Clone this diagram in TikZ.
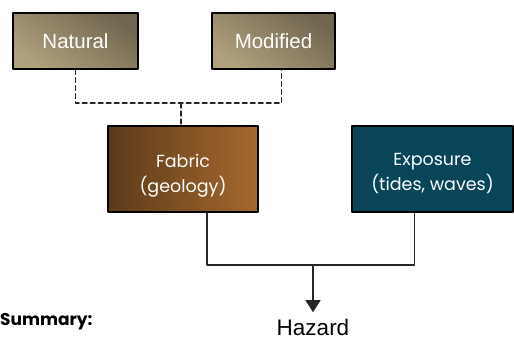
\documentclass[tikz,border=0pt]{standalone}
\usepackage{fontspec}
\setmainfont{Liberation Sans}
\newfontfamily\gothic{Poppins}
\usetikzlibrary{arrows,arrows.meta}
\definecolor{khakilt}{rgb}{0.69,0.63,0.49}
\definecolor{khakidk}{rgb}{0.44,0.40,0.31}
\definecolor{fabricdk}{rgb}{0.36,0.23,0.10}
\definecolor{fabriclt}{rgb}{0.65,0.41,0.18}
\definecolor{exposurebg}{rgb}{0.03,0.27,0.35}

\begin{document}
\begin{tikzpicture}[line cap=round,line join=round,>=triangle 45,x=1pt,y=-1pt,
		srcbox/.style={draw=black,line width=1.4pt,minimum width=125pt,minimum height=56pt,
			shading=axis,top color=khakidk,bottom color=khakilt,shading angle=-35,
			text=white,font=\fontsize{20.5}{20.5}\selectfont},
		factorbox/.style={draw=black,line width=1.4pt,minimum height=86pt,
			text=white,align=center,font=\gothic\fontsize{17.5}{25}\selectfont},
		wire/.style={draw=black!85,line width=1.1pt}]
			\useasboundingbox (0,0) rectangle (514,339);

			\node[srcbox] (natural) at (75.5,41) {Natural};
			\node[srcbox,minimum width=123pt] (modified) at (273.5,41) {Modified};

			\node[factorbox,minimum width=150pt,left color=fabricdk,right color=fabriclt] (fabric) at (183,169) {\rule{0pt}{26pt}Fabric\\(geology)};
			\node[factorbox,minimum width=161pt,fill=exposurebg] (exposure) at (432.5,169) {\rule{0pt}{21pt}Exposure\\(tides, waves)};

			\node[font=\fontsize{22.5}{22.5}\selectfont] (hazard) at (313,327) {Hazard};
			\node[anchor=west,inner sep=0pt,font=\gothic\bfseries\fontsize{17}{17}\selectfont] (summary) at (0,322) {Summary:};

			% dashed join from the two sources
			\coordinate (split) at (181,103);
			\draw[wire,dashed,dash pattern=on 5pt off 3pt] (natural.south) |- (split) -| ([xshift=8pt]modified.south);
			\draw[wire,dashed,dash pattern=on 5pt off 3pt] (split) -- (split |- fabric.north);

			% fabric and exposure feed the hazard
			\coordinate (merge) at (313,265);
			\draw[wire] ([xshift=24pt]fabric.south) |- (merge) -| ([xshift=-18pt]exposure.south);
			\draw[wire,-{Triangle[width=15pt,length=12pt]},shorten >=3pt] (merge) -- (hazard.north);
		\end{tikzpicture}
\end{document}
